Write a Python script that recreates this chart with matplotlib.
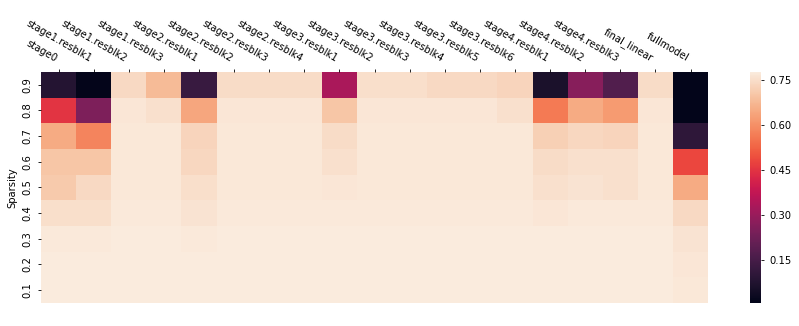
import numpy as np
import pandas as pd
import matplotlib
matplotlib.use("Agg")
import matplotlib.pyplot as plt
import seaborn as sns

layers = ["stage0", "stage1.resblk1", "stage1.resblk2", "stage1.resblk3",
          "stage2.resblk1", "stage2.resblk2", "stage2.resblk3", "stage2.resblk4",
          "stage3.resblk1", "stage3.resblk2", "stage3.resblk3", "stage3.resblk4",
          "stage3.resblk5", "stage3.resblk6", "stage4.resblk1", "stage4.resblk2",
          "stage4.resblk3", "final_linear", "fullmodel"]
sparsity = [0.9, 0.8, 0.7, 0.6, 0.5, 0.4, 0.3, 0.2, 0.1]

# accuracy per layer, rows go from sparsity 0.9 down to 0.1
acc_09 = [0.08, 0.01, 0.74, 0.68, 0.12, 0.745, 0.745, 0.745, 0.33, 0.75,
          0.75, 0.74, 0.74, 0.73, 0.06, 0.27, 0.17, 0.745, 0.005]
acc_08 = [0.45, 0.25, 0.765, 0.755, 0.64, 0.765, 0.765, 0.765, 0.70, 0.765,
          0.765, 0.765, 0.765, 0.755, 0.56, 0.65, 0.62, 0.765, 0.005]
acc_07 = [0.65, 0.58, 0.77, 0.77, 0.73, 0.77, 0.77, 0.77, 0.745, 0.77,
          0.77, 0.77, 0.77, 0.77, 0.72, 0.735, 0.73, 0.77, 0.10]
acc_06 = [0.70, 0.70, 0.77, 0.77, 0.735, 0.77, 0.77, 0.77, 0.755, 0.77,
          0.77, 0.77, 0.77, 0.77, 0.745, 0.755, 0.755, 0.77, 0.48]
acc_05 = [0.71, 0.74, 0.77, 0.77, 0.75, 0.77, 0.77, 0.77, 0.765, 0.77,
          0.77, 0.77, 0.77, 0.77, 0.755, 0.76, 0.755, 0.77, 0.65]
acc_04 = [0.75, 0.75, 0.772, 0.772, 0.76, 0.772, 0.772, 0.772, 0.772, 0.772,
          0.772, 0.772, 0.772, 0.772, 0.765, 0.772, 0.772, 0.772, 0.74]
acc_03 = [0.772, 0.772, 0.774, 0.774, 0.772, 0.774, 0.774, 0.774, 0.774, 0.774,
          0.774, 0.774, 0.774, 0.774, 0.774, 0.774, 0.774, 0.774, 0.76]
acc_02 = [0.775, 0.775, 0.775, 0.775, 0.775, 0.775, 0.775, 0.775, 0.775, 0.775,
          0.775, 0.775, 0.775, 0.775, 0.775, 0.775, 0.775, 0.775, 0.765]
acc_01 = [0.777, 0.777, 0.777, 0.777, 0.777, 0.777, 0.777, 0.777, 0.777, 0.777,
          0.777, 0.777, 0.777, 0.777, 0.777, 0.777, 0.777, 0.777, 0.77]

df = pd.DataFrame([acc_09, acc_08, acc_07, acc_06, acc_05, acc_04, acc_03, acc_02, acc_01],
                  index=sparsity, columns=layers)

fig = plt.figure(figsize=(7.99, 3.26), dpi=100)
ax = fig.add_axes([0.0513, 0.0706, 0.835, 0.709])
cax = fig.add_axes([0.9387, 0.0706, 0.0138, 0.709])

sns.heatmap(df, ax=ax, cbar_ax=cax, cmap="rocket")

# etiquetas do eixo x em cima
ax.xaxis.tick_top()
ax.set_xticklabels(layers, rotation=-30, ha="right", fontsize=7.2)
ax.set_yticklabels([str(s) for s in sparsity], rotation=90, va="center", fontsize=7.2)
ax.set_ylabel("Sparsity", fontsize=7.2)
ax.tick_params(axis="both", length=2.5, width=0.6)

cax.set_yticks([0.15, 0.30, 0.45, 0.60, 0.75])
cax.set_yticklabels(["0.15", "0.30", "0.45", "0.60", "0.75"])
cax.tick_params(labelsize=7.2, length=2.5, width=0.6)

fig.savefig("out.png", dpi=100)
